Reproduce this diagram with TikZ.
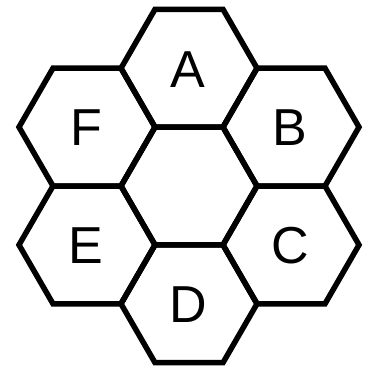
\documentclass[tikz,border=0pt]{standalone}
\usepackage{fontspec}
\newfontfamily\labfont{Liberation Sans}
\begin{document}
\begin{tikzpicture}[x=1pt,y=-1pt,
  hexline/.style={draw=black,line width=5.5pt,line join=miter},
  hexlabel/.style={font=\labfont\fontsize{52}{60}\selectfont,inner sep=0pt}]
\useasboundingbox (0,0) rectangle (367,369);
\foreach \n/\cx/\cy/\t in {O/189/186/{},A/189/68.2/A,D/189/303.8/D,B/291/127.1/B,C/291/244.9/C,F/87/127.1/F,E/87/244.9/E}{
  \draw[hexline] (\cx+68,\cy) -- (\cx+34,\cy+58.9) -- (\cx-34,\cy+58.9) -- (\cx-68,\cy) -- (\cx-34,\cy-58.9) -- (\cx+34,\cy-58.9) -- cycle;
  \node[hexlabel] (lab\n) at (\cx-1,\cy+1) {\t};
}
\end{tikzpicture}
\end{document}
